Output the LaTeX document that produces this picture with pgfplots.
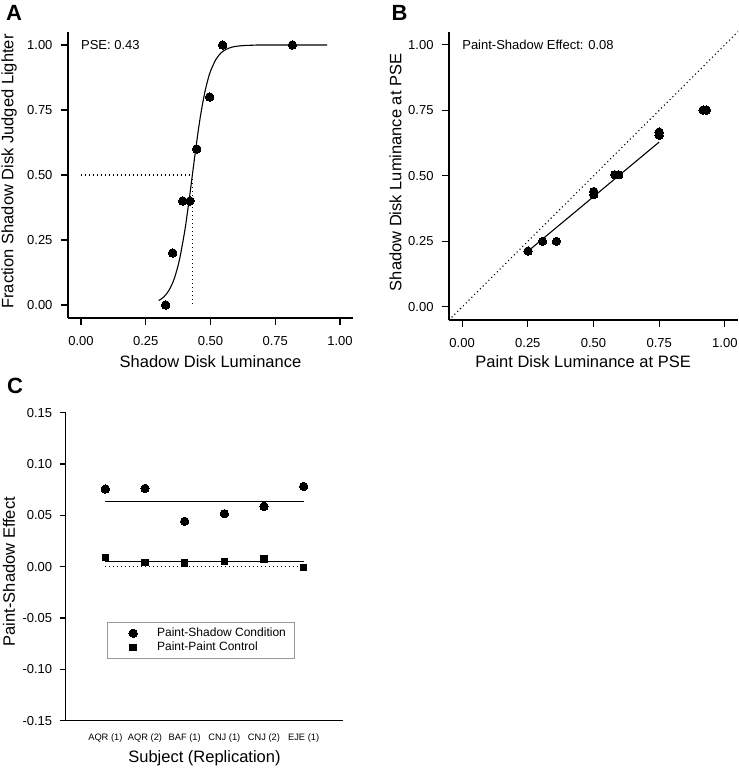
\documentclass[border=0pt]{standalone}
\usepackage{fontspec}
\setmainfont{Liberation Sans}
\usepackage{pgfplots}
\pgfplotsset{compat=1.18}
\pgfplotsset{
  myaxis/.style={
    scale only axis, anchor=south west,
    axis x line*=bottom, axis y line*=left,
    axis line style={line width=1.2bp, black},
    tick align=outside, major tick length=7bp,
    tick style={line width=1.2bp, black},
    tick label style={font=\fontsize{13bp}{15bp}\selectfont},
    xticklabel style={yshift=-8bp},
    yticklabel style={xshift=-5bp},
    label style={font=\fontsize{16.5bp}{19bp}\selectfont},
    /pgf/number format/assume math mode=true,
    /pgf/number format/fixed, /pgf/number format/fixed zerofill, /pgf/number format/precision=2,
    clip=false,
  },
  legimg/.style={legend image code/.code={\path[draw=none,fill=none] (0bp,0bp) -- (33.4bp,0bp); \draw[##1,/tikz/only marks] plot coordinates {(16.7bp,0bp)};}},
  dot/.style={only marks, mark=*, mark size=4.2bp, mark options={fill=black, draw=black, line width=0bp}, legimg},
  sq/.style={only marks, mark=square*, mark size=3.2bp, mark options={fill=black, draw=black, line width=0bp}, legimg},
  dotline/.style={black, line width=1.1bp, dash pattern=on 1.1bp off 2.9bp},
}
\begin{document}
\begin{tikzpicture}
\useasboundingbox (0,0) rectangle (739bp,768bp);
% Panel letters
\node[font=\fontsize{22bp}{24bp}\selectfont\bfseries] at (14bp,755bp) {A};
\node[font=\fontsize{22bp}{24bp}\selectfont\bfseries] at (399.5bp,755.5bp) {B};
\node[font=\fontsize{22bp}{24bp}\selectfont\bfseries] at (15bp,382bp) {C};

% ---------------- Panel A
\begin{axis}[myaxis,
  at={(68bp,450bp)}, width=285bp, height=286bp,
  xmin=-0.05, xmax=1.05, ymin=-0.05, ymax=1.05,
  xtick={0,0.25,0.5,0.75,1}, ytick={0,0.25,0.5,0.75,1},
  xlabel={Shadow Disk Luminance},
  ylabel={Fraction Shadow Disk Judged Lighter},
  xlabel style={at={(rel axis cs:0.5,-0.152)}, anchor=center},
  ylabel style={at={(rel axis cs:-0.207,0.512)}, anchor=center},
]
\addplot[dotline] coordinates {(0,0.5) (0.43,0.5)};
\addplot[dotline] coordinates {(0.43,0.5) (0.43,0)};
\addplot[black, line width=1.1bp, smooth] coordinates {
(0.30,0.017) (0.32,0.031) (0.34,0.057) (0.36,0.101) (0.38,0.173) (0.40,0.281)
(0.41,0.349) (0.42,0.423) (0.43,0.500) (0.44,0.577) (0.45,0.651) (0.46,0.719)
(0.47,0.777) (0.48,0.827) (0.49,0.867) (0.50,0.899) (0.52,0.943) (0.54,0.969)
(0.56,0.983) (0.58,0.991) (0.60,0.995) (0.63,0.998) (0.66,0.999) (0.70,1.000) (0.95,1.000)};
\addplot[dot] coordinates {(0.327,0.0) (0.354,0.2) (0.393,0.4) (0.421,0.4) (0.447,0.6) (0.497,0.8) (0.547,1.0) (0.816,1.0)};
\node[anchor=west, inner sep=0pt, font=\fontsize{13bp}{15bp}\selectfont] at (axis cs:0,1) {PSE: 0.43};
\end{axis}

% ---------------- Panel B
\begin{axis}[myaxis,
  at={(449bp,448bp)}, width=289bp, height=288.3bp,
  xmin=-0.05, xmax=1.05, ymin=-0.05, ymax=1.05,
  xtick={0,0.25,0.5,0.75,1}, ytick={0,0.25,0.5,0.75,1},
  xlabel={Paint Disk Luminance at PSE},
  ylabel={Shadow Disk Luminance at PSE},
  xlabel style={at={(rel axis cs:0.464,-0.144)}, anchor=center},
  ylabel style={at={(rel axis cs:-0.185,0.512)}, anchor=center},
]
\addplot[dotline] coordinates {(-0.04,-0.04) (1.05,1.05)};
\addplot[black, line width=1.1bp] coordinates {(0.263,0.223) (0.75,0.629)};
\addplot[dot] coordinates {(0.251,0.213) (0.306,0.25) (0.359,0.25) (0.501,0.428) (0.501,0.44)
 (0.581,0.504) (0.596,0.504) (0.75,0.655) (0.75,0.667) (0.917,0.751) (0.93,0.751)};
\node[anchor=west, inner sep=0pt, font=\fontsize{13bp}{15bp}\selectfont] at (axis cs:0,1) {Paint-Shadow Effect: 0.08};
\end{axis}

% ---------------- Panel C
\begin{axis}[myaxis,
  at={(65.7bp,47.3bp)}, width=277.6bp, height=308bp,
  xmin=-1, xmax=6, ymin=-0.15, ymax=0.15,
  xtick={0,1,2,3,4,5},
  xticklabels={AQR (1),AQR (2),BAF (1),CNJ (1),CNJ (2),EJE (1)},
  xtick style={draw=none},
  xticklabel style={font=\fontsize{9.3bp}{11bp}\selectfont, yshift=4bp},
  yticklabel style={xshift=1bp},
  ytick={-0.15,-0.1,-0.05,0,0.05,0.1,0.15},
  major tick length=6bp,
  xlabel={Subject (Replication)},
  ylabel={Paint-Shadow Effect},
  xlabel style={at={(rel axis cs:0.5,-0.121)}, anchor=center},
  ylabel style={at={(rel axis cs:-0.204,0.484)}, anchor=center},
  legend style={at={(rel axis cs:0.15,0.3195)}, anchor=north west,
    draw=gray!80, line width=0.8bp,
    font=\fontsize{12bp}{14bp}\selectfont,
    nodes={inner sep=0bp, text height=9bp, text depth=2.5bp},
    row sep=3bp, inner xsep=8.7bp, inner ysep=4.8bp,
    /tikz/every odd column/.append style={column sep=7.3bp}},
  legend cell align=left,
]
\addplot[dot] coordinates {(0,0.0757) (1,0.0763) (2,0.0442) (3,0.0516) (4,0.0588) (5,0.0782)};
\addlegendentry{Paint-Shadow Condition}
\addplot[sq] coordinates {(0,0.0088) (1,0.0039) (2,0.0036) (3,0.0049) (4,0.0075) (5,-0.0006)};
\addlegendentry{Paint-Paint Control}
\addplot[black, line width=1.2bp, forget plot] coordinates {(0,0.0636) (5,0.0636)};
\addplot[black, line width=1.2bp, forget plot] coordinates {(0,0.0049) (5,0.0049)};
\addplot[dotline, forget plot] coordinates {(0,0) (5,0)};
\end{axis}
\end{tikzpicture}
\end{document}
